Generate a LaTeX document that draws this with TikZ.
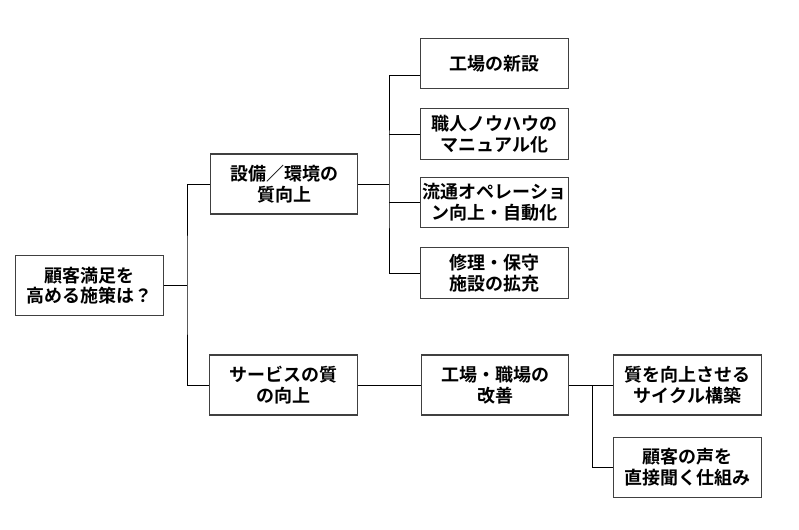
\documentclass[tikz,border=0pt]{standalone}
\usepackage{fontspec}
\setmainfont{Noto Sans CJK JP}[BoldFont={Noto Sans CJK JP Bold}]
\begin{document}
\begin{tikzpicture}[x=0.75pt,y=-0.75pt,
  box/.style={draw=black!75, line width=0.9pt, fill=white, inner sep=0pt, align=center,
    minimum width=110.5pt, font=\fontsize{13.5pt}{15.5pt}\selectfont\bfseries},
  tall/.style={box, minimum height=45pt},
  short/.style={box, minimum height=38pt},
  link/.style={draw=black, line width=0.75pt}]
\useasboundingbox (0,0) rectangle (799,529);
\node[tall] (root) at (89.5,285.5) {顧客満足を\\高める施策は？};
\node[tall] (b1) at (284,184) {設備／環境の\\質向上};
\node[tall] (b2) at (283.5,385) {サービスの質\\の向上};
\node[short] (c1) at (494.5,63.5) {工場の新設};
\node[short] (c2) at (494.5,134) {職人ノウハウの\\マニュアル化};
\node[short] (c3) at (494.5,202.5) {流通オペレーショ\\ン向上・自動化};
\node[short] (c4) at (494.5,273) {修理・保守\\施設の拡充};
\node[tall] (d1) at (495,385) {工場・職場の\\改善};
\node[tall] (e1) at (687.5,385) {質を向上させる\\サイクル構築};
\node[tall] (e2) at (687.5,467.5) {顧客の声を\\直接聞く仕組み};
\coordinate (j1) at (187,285.5);
\coordinate (j2) at (389,184);
\coordinate (j3) at (592,385);
\coordinate (y1) at (0,75.5);
\draw[link] (root.east) -- (j1);
\draw[link] (b1.west) -| (j1) |- (b2.west);
\draw[link] (b1.east) -- (j2);
\draw[link] (c1.west |- y1) -| (j2) |- (c4.west);
\draw[link] (c2.west) -- (c2.west -| j2);
\draw[link] (c3.west) -- (c3.west -| j2);
\draw[link] (b2.east) -- (d1.west);
\draw[link] (d1.east) -- (e1.west);
\draw[link] (j3) |- (e2.west);
\end{tikzpicture}
\end{document}
